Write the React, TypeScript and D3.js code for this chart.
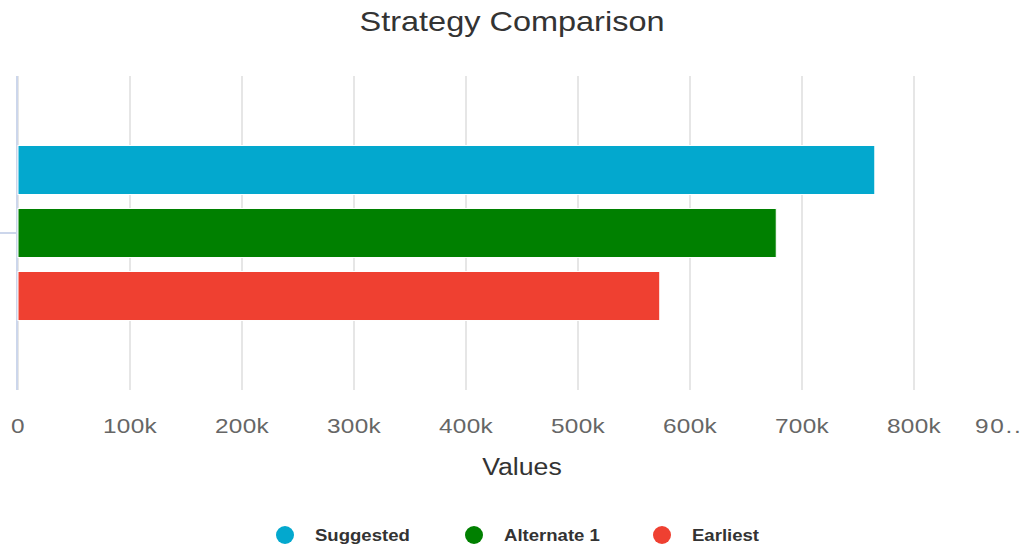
import React from "react";
import * as d3 from "d3";

const categories = ["Strategy"];
const seriesNames = ["Suggested", "Alternate 1", "Earliest"];
const seriesValues = [765000, 677000, 573000];
const seriesColors = ["#03a8ce", "#008000", "#ef4031"];
const xTicks = [0, 100000, 200000, 300000, 400000, 500000, 600000, 700000, 800000, 900000];
const tickLabels = ["0", "100k", "200k", "300k", "400k", "500k", "600k", "700k", "800k", "90.."];

const W = 1026;
const H = 548;
const plot = { left: 18, right: 1026, top: 76, bottom: 390 };
const SX = 1.16;

function T(props: {
  x: number;
  y: number;
  anchor?: string;
  size: number;
  fill: string;
  weight?: string;
  ls?: number;
  children: React.ReactNode;
}) {
  return (
    <text
      transform={`translate(${props.x},${props.y}) scale(${SX},1)`}
      textAnchor={props.anchor || "start"}
      fontSize={props.size}
      fill={props.fill}
      fontWeight={props.weight || "normal"}
      letterSpacing={props.ls || 0}
    >
      {props.children}
    </text>
  );
}

export default function App() {
  const x = d3.scaleLinear().domain([0, 900000]).range([plot.left, plot.right]);
  const yCat = d3.scaleBand().domain(categories).range([plot.top, plot.bottom]);
  const ySer = d3
    .scaleBand()
    .domain(seriesNames)
    .range([plot.top, plot.bottom])
    .paddingInner(0.222)
    .paddingOuter(1.103);
  const font = "'Liberation Sans', Arial, Helvetica, sans-serif";
  const legendX = [285, 474, 662];
  const catCenter = (yCat(categories[0]) as number) + yCat.bandwidth() / 2;
  return (
    <svg
      width={W}
      height={H}
      style={{ position: "absolute", left: 0, top: 0, background: "#fff" }}
      fontFamily={font}
    >
      <T x={512} y={31} anchor="middle" size={28} fill="#333">
        Strategy Comparison
      </T>
      {xTicks
        .filter((t) => x(t) < plot.right - 1)
        .map((t) => (
          <line
            key={t}
            x1={x(t)}
            x2={x(t)}
            y1={plot.top}
            y2={plot.bottom}
            stroke="#e6e6e6"
            strokeWidth={2}
          />
        ))}
      <line x1={17} x2={17} y1={plot.top} y2={plot.bottom} stroke="#ccd6eb" strokeWidth={2} />
      <line x1={0} x2={16} y1={catCenter} y2={catCenter} stroke="#ccd6eb" strokeWidth={2} />
      {seriesNames.map((s, i) => (
        <rect
          key={s}
          x={x(0)}
          y={ySer(s) as number}
          width={x(seriesValues[i]) - x(0)}
          height={ySer.bandwidth()}
          fill={seriesColors[i]}
          stroke="#ffffff"
          strokeWidth={1}
        />
      ))}
      {xTicks.map((t, i) => {
        const last = i === xTicks.length - 1;
        return (
          <T
            key={"l" + t}
            x={last ? x(t) - 51 : x(t)}
            y={433}
            anchor={last ? "start" : "middle"}
            size={21}
            fill="#666"
            ls={last ? 1.5 : 0.3}
          >
            {tickLabels[i]}
          </T>
        );
      })}
      <T x={522} y={475} anchor="middle" size={23} fill="#333">
        Values
      </T>
      {seriesNames.map((s, i) => (
        <g key={"lg" + s}>
          <circle cx={legendX[i]} cy={535} r={9} fill={seriesColors[i]} />
          <T x={legendX[i] + 30} y={541} size={16} weight="bold" fill="#333">
            {s}
          </T>
        </g>
      ))}
    </svg>
  );
}
